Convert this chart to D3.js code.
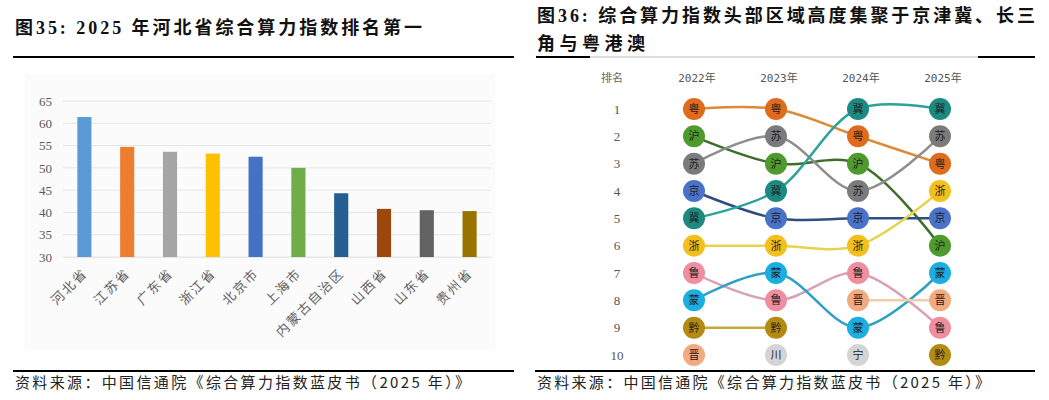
<!DOCTYPE html>
<html><head><meta charset="utf-8">
<script src="https://cdn.jsdelivr.net/npm/d3@7"></script>
<style>
body{margin:0;background:#fff;}
svg{display:block;}
</style></head>
<body>
<svg id="c" width="1049" height="400"></svg>
<script>
// ---- Left chart data ----
const provinces = ["河北省","江苏省","广东省","浙江省","北京市","上海市","内蒙古自治区","山西省","山东省","贵州省"];
const indexValues = [61.4, 54.7, 53.6, 53.2, 52.5, 50.0, 44.3, 40.8, 40.5, 40.3];
const yTicks = [30, 35, 40, 45, 50, 55, 60, 65];
const barPalette = ["#5B9BD5","#ED7D31","#A5A5A5","#FFC000","#4472C4","#70AD47","#255E91","#9E480E","#636363","#997300"];

// ---- Right chart data ----
const years = ["2022年","2023年","2024年","2025年"];
const rankNumbers = [1,2,3,4,5,6,7,8,9,10];
const rank2022 = ["粤","沪","苏","京","冀","浙","鲁","蒙","黔","晋"];
const rank2023 = ["粤","苏","沪","冀","京","浙","蒙","鲁","黔","川"];
const rank2024 = ["冀","粤","沪","苏","京","浙","鲁","晋","蒙","宁"];
const rank2025 = ["冀","苏","粤","浙","京","沪","蒙","晋","鲁","黔"];
const rankings = [rank2022, rank2023, rank2024, rank2025];
const regionFill = {"粤":"#E06A1E","沪":"#4E9A2C","苏":"#7B7B7B","京":"#4A72C8","冀":"#1C8A80","浙":"#F3BF1C","鲁":"#EE8E9E","蒙":"#1BAEE0","黔":"#B38B12","晋":"#F2AA80","川":"#D4D4D4","宁":"#D4D4D4"};
const regionLine = {"粤":"#DB8A38","沪":"#3E6E2C","苏":"#8E8E8E","京":"#2F4E7E","冀":"#2AA39A","浙":"#EAD24E","鲁":"#D9A2B4","蒙":"#2CA0C6","黔":"#C9A83A","晋":"#F3CBA8"};

const svg = d3.select("#c");
const serifCJK = "'Liberation Serif','Noto Sans CJK SC',serif";
const sansCJK = "'Noto Sans CJK SC',sans-serif";

// ================= LEFT PANEL =================
svg.append("text").attr("x",15).attr("y",34)
  .attr("font-family",serifCJK).attr("font-weight","bold").attr("font-size",18)
  .attr("textLength",407).attr("lengthAdjust","spacing").attr("fill","#111")
  .text("图35:  2025 年河北省综合算力指数排名第一");
svg.append("line").attr("x1",13).attr("x2",514).attr("y1",57).attr("y2",57)
  .attr("stroke","#000").attr("stroke-width",2);

svg.append("rect").attr("x",25).attr("y",75).attr("width",470).attr("height",275).attr("fill","#fbfbfb");

const x = d3.scaleBand().domain(provinces).range([63,491]).paddingInner(0.67).paddingOuter(0.335);
const y = d3.scaleLinear().domain([30,65]).range([257,101]);

const gGrid = svg.append("g");
gGrid.selectAll("line").data(yTicks).join("line")
  .attr("x1",63).attr("x2",491).attr("y1",d=>y(d)).attr("y2",d=>y(d))
  .attr("stroke","#e6e6e6").attr("stroke-width",1);

const yAxis = svg.append("g").attr("transform","translate(56,0)")
  .call(d3.axisLeft(y).tickValues(yTicks).tickSize(0).tickPadding(4));
yAxis.select(".domain").remove();
yAxis.selectAll("text").attr("font-family","'Liberation Serif',serif").attr("font-size",13).attr("fill","#595959");

svg.append("g").selectAll("rect").data(provinces).join("rect")
  .attr("x",d=>x(d)).attr("width",x.bandwidth())
  .attr("y",(d,i)=>y(indexValues[i])).attr("height",(d,i)=>y(30)-y(indexValues[i]))
  .attr("fill",(d,i)=>barPalette[i]);

const xAxis = svg.append("g").attr("transform","translate(0,257)")
  .call(d3.axisBottom(x).tickSize(0).tickPadding(0));
xAxis.select(".domain").attr("stroke","#e6e6e6");
xAxis.selectAll("text")
  .attr("font-family",sansCJK).attr("font-size",13).attr("fill","#606060")
  .attr("letter-spacing",2)
  .attr("text-anchor","end").attr("dy",0)
  .attr("transform","translate(4,17) rotate(-45)");

svg.append("line").attr("x1",13).attr("x2",514).attr("y1",371).attr("y2",371)
  .attr("stroke","#000").attr("stroke-width",2);
svg.append("text").attr("x",15).attr("y",388)
  .attr("font-family",sansCJK).attr("font-size",15).attr("fill","#222")
  .attr("textLength",455).attr("lengthAdjust","spacing")
  .text("资料来源：中国信通院《综合算力指数蓝皮书（2025 年）》");

// ================= RIGHT PANEL =================
svg.append("text").attr("x",537).attr("y",22)
  .attr("font-family",serifCJK).attr("font-weight","bold").attr("font-size",18)
  .attr("textLength",498).attr("lengthAdjust","spacing").attr("fill","#111")
  .text("图36:  综合算力指数头部区域高度集聚于京津冀、长三");
svg.append("text").attr("x",537).attr("y",50)
  .attr("font-family",serifCJK).attr("font-weight","bold").attr("font-size",18)
  .attr("textLength",108).attr("lengthAdjust","spacing").attr("fill","#111")
  .text("角与粤港澳");
svg.append("line").attr("x1",536).attr("x2",1035).attr("y1",57).attr("y2",57)
  .attr("stroke","#bbb").attr("stroke-width",1);
svg.append("line").attr("x1",536).attr("x2",590).attr("y1",57).attr("y2",57)
  .attr("stroke","#000").attr("stroke-width",2);
svg.append("line").attr("x1",978).attr("x2",1035).attr("y1",57).attr("y2",57)
  .attr("stroke","#000").attr("stroke-width",2);

const bx = d3.scalePoint().domain(years).range([694,940]);
const by = d3.scalePoint().domain(rankNumbers).range([109,355]);

svg.append("text").attr("x",612).attr("y",82).attr("text-anchor","middle")
  .attr("font-family",sansCJK).attr("font-size",11).attr("fill","#666").text("排名");
svg.append("g").selectAll("text").data(years).join("text")
  .attr("x",d=>bx(d)+3).attr("y",82).attr("text-anchor","middle")
  .attr("font-family","'DejaVu Sans Mono','Noto Sans CJK SC',monospace").attr("font-size",11).attr("fill","#555")
  .text(d=>d);
svg.append("g").selectAll("text").data(rankNumbers).join("text")
  .attr("x",617).attr("y",d=>by(d)).attr("dy","0.35em").attr("text-anchor","middle")
  .attr("font-family","'Liberation Serif',serif").attr("font-size",13).attr("fill","#555")
  .text(d=>d);

// connecting lines: one smooth path per consecutive run of each region
const regions = Object.keys(regionLine);
const runs = [];
regions.forEach(r=>{
  let cur = [];
  rankings.forEach((arr,k)=>{
    const i = arr.indexOf(r);
    if (i>=0) cur.push([bx(years[k]), by(rankNumbers[i])]);
    else { if (cur.length>1) runs.push({r,pts:cur}); cur=[]; }
  });
  if (cur.length>1) runs.push({r,pts:cur});
});
const lineGen = d3.line().curve(d3.curveCatmullRom.alpha(0.5));
svg.append("g").selectAll("path").data(runs).join("path")
  .attr("d",d=>lineGen(d.pts)).attr("fill","none")
  .attr("stroke",d=>regionLine[d.r]).attr("stroke-width",2.5);

// nodes
const nodes = [];
rankings.forEach((arr,k)=>arr.forEach((r,i)=>nodes.push({r,x:bx(years[k]),y:by(rankNumbers[i])})));
const gN = svg.append("g");
gN.selectAll("circle").data(nodes).join("circle")
  .attr("cx",d=>d.x).attr("cy",d=>d.y).attr("r",11).attr("fill",d=>regionFill[d.r]);
gN.selectAll("text").data(nodes).join("text")
  .attr("x",d=>d.x).attr("y",d=>d.y).attr("dy","0.36em").attr("text-anchor","middle")
  .attr("font-family",sansCJK).attr("font-size",11).attr("fill","#222")
  .text(d=>d.r);

svg.append("line").attr("x1",535).attr("x2",1035).attr("y1",371).attr("y2",371)
  .attr("stroke","#000").attr("stroke-width",2);
svg.append("text").attr("x",537).attr("y",388)
  .attr("font-family",sansCJK).attr("font-size",15).attr("fill","#222")
  .attr("textLength",453).attr("lengthAdjust","spacing")
  .text("资料来源：中国信通院《综合算力指数蓝皮书（2025 年）》");
</script>
</body></html>
